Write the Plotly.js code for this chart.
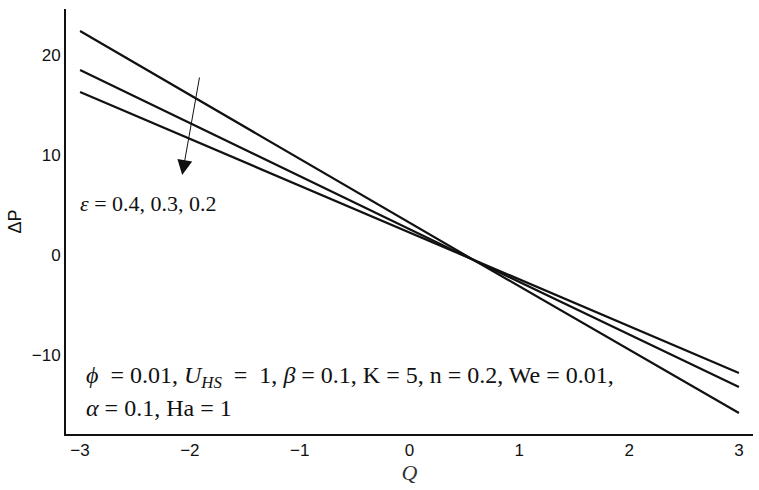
<!DOCTYPE html>
<html>
<head>
<meta charset="utf-8">
<script src="https://cdn.plot.ly/plotly-3.0.1.min.js"></script>
<style>
  html, body { margin: 0; padding: 0; background: #fff; }
  #chart { width: 759px; height: 490px; }
</style>
</head>
<body>
<div id="chart"></div>
<script>
// Q values read at the ends of the lines and at the common crossing point
var Q = [-3, 0.6, 3];
var dpEps04 = [22.4, -0.6, -15.8];
var dpEps03 = [18.5, -0.6, -13.2];
var dpEps02 = [16.3, -0.6, -11.8];
var epsLabels = ["0.4", "0.3", "0.2"];
var xTicks = [-3, -2, -1, 0, 1, 2, 3];
var yTicks = [-10, 0, 10, 20];

var lineStyle = {color: "#111", width: 2.2};
var series = [dpEps04, dpEps03, dpEps02];
var data = [];
for (var i = 0; i < series.length; i++) {
  data.push({
    x: Q, y: series[i], type: "scatter", mode: "lines",
    line: lineStyle, name: "ε = " + epsLabels[i], hoverinfo: "skip"
  });
}

var serif = "Liberation Serif, Times New Roman, serif";
var sans = "Liberation Sans, Arial, sans-serif";

var layout = {
  width: 759, height: 490,
  margin: {l: 66, r: 6, t: 9, b: 56},
  showlegend: false,
  paper_bgcolor: "#fff", plot_bgcolor: "#fff",
  xaxis: {
    range: [-3.128, 3.128],
    tickvals: xTicks,
    showgrid: false, zeroline: false,
    showline: true, linecolor: "#111", linewidth: 2,
    ticks: "", ticklabelstandoff: 0,
    tickfont: {family: sans, size: 17, color: "#111"},
    title: {text: "<i>Q</i>", font: {family: serif, size: 22, color: "#333"}, standoff: 2}
  },
  yaxis: {
    range: [-17.9, 24.6],
    tickvals: yTicks,
    showgrid: false, zeroline: false,
    showline: true, linecolor: "#111", linewidth: 2,
    ticks: "",
    tickfont: {family: sans, size: 17, color: "#111"},
    title: {text: "ΔP", font: {family: sans, size: 18, color: "#111"}, standoff: 5}
  },
  annotations: [
    {
      x: -2.07, y: 8.0, ax: -1.91, ay: 17.9,
      xref: "x", yref: "y", axref: "x", ayref: "y",
      showarrow: true, arrowhead: 2, arrowsize: 3, arrowwidth: 1, arrowcolor: "#111",
      text: ""
    },
    {
      x: -3.02, y: 5.2, xref: "x", yref: "y", xanchor: "left", yanchor: "middle",
      showarrow: false,
      text: "<i>ε</i> = " + epsLabels.join(", "),
      font: {family: serif, size: 22, color: "#111"}
    },
    {
      x: -2.96, y: -12.2, xref: "x", yref: "y", xanchor: "left", yanchor: "middle",
      showarrow: false,
      text: "<i>ϕ</i>  = 0.01, <i>U<sub>HS</sub></i>  =  1, <i>β</i> = 0.1, K = 5, n = 0.2, We = 0.01,",
      font: {family: serif, size: 24, color: "#111"}
    },
    {
      x: -2.96, y: -15.3, xref: "x", yref: "y", xanchor: "left", yanchor: "middle",
      showarrow: false,
      text: "<i>α</i> = 0.1, Ha = 1",
      font: {family: serif, size: 24, color: "#111"}
    }
  ]
};

Plotly.newPlot("chart", data, layout, {displayModeBar: false, staticPlot: true});
</script>
</body>
</html>
